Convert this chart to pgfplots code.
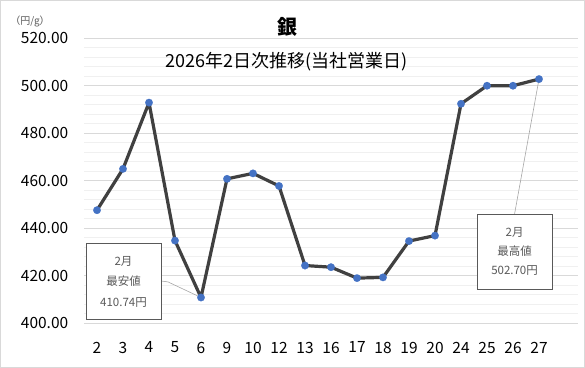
\documentclass[border=0pt]{standalone}
\usepackage{fontspec}
\setmainfont{Noto Sans CJK JP}
\usepackage{pgfplots}
\pgfplotsset{compat=1.18}
\definecolor{lineg}{HTML}{404040}
\definecolor{mblue}{HTML}{4472C4}
\definecolor{gridmaj}{HTML}{D9D9D9}
\definecolor{gridmin}{HTML}{F0F0F0}
\definecolor{txt}{HTML}{595959}
\definecolor{lead}{HTML}{A6A6A6}
\begin{document}
\begin{tikzpicture}
\useasboundingbox (0,0) rectangle (585bp,368bp);
\draw[gridmaj, line width=0.75bp] (0.5bp,0.5bp) rectangle (584.5bp,367.5bp);
\begin{axis}[at={(84bp,45bp)}, anchor=south west, scale only axis,
  width=494bp, height=285bp,
  xmin=-0.5, xmax=18.5, ymin=400, ymax=520,
  axis x line*=bottom, axis y line*=left,
  y axis line style={draw=none},
  x axis line style={gridmaj, line width=0.75bp},
  ytick={400,420,...,520}, minor y tick num=4,
  ymajorgrids, yminorgrids,
  major grid style={gridmaj, line width=0.75bp},
  minor grid style={gridmin, line width=0.75bp},
  ytick style={draw=none}, minor y tick style={draw=none},
  xtick={0,...,17},
  xticklabels={2,3,4,5,6,9,10,12,13,16,17,18,19,20,24,25,26,27},
  xtick style={draw=none},
  minor xtick={-0.5,0.5,...,18.5},
  minor x tick style={gridmaj, line width=0.75bp},
  tick align=outside, minor tick length=5bp,
  /pgf/number format/assume math mode=true,
  yticklabel style={xshift=-8bp, /pgf/number format/.cd, fixed, fixed zerofill, precision=2, 1000 sep={}},
  tick label style={font=\fontsize{15.5bp}{18bp}\selectfont, color=black},
  xticklabel style={yshift=-11bp},
  clip=false,
]
\addplot[lineg, line width=3.2bp, line join=round, mark=*, mark size=3.8bp,
  mark options={fill=mblue, draw=mblue, line width=0.1bp}] coordinates {
(0,447.5) (1,464.9) (2,492.8) (3,434.7) (4,410.74) (5,460.7) (6,463.0) (7,457.7)
(8,424.2) (9,423.5) (10,418.9) (11,419.2) (12,434.5) (13,436.8) (14,492.3)
(15,499.9) (16,499.9) (17,502.70)
};
\draw[lead, line width=0.6bp] (axis cs:2.46,417.7) -- (axis cs:2.73,417.3) -- (axis cs:4,410.74);
\draw[lead, line width=0.6bp] (axis cs:16.06,445.9) -- (axis cs:17,502.7);
\draw[txt, fill=white, line width=0.9bp] (axis cs:-0.42,401.7) rectangle (axis cs:2.46,433.3);
\draw[txt, fill=white, line width=0.9bp] (axis cs:14.62,414.3) rectangle (axis cs:17.5,445.9);
\begin{scope}[every node/.style={txt, font=\fontsize{11.5bp}{13bp}\selectfont}]
\node at (axis cs:1.02,426.1) {2月};
\node at (axis cs:1.02,417.7) {最安値};
\node at (axis cs:1.02,408.8) {410.74円};
\node at (axis cs:16.06,438.3) {2月};
\node at (axis cs:16.06,430.3) {最高値};
\node at (axis cs:16.06,421.9) {502.70円};
\end{scope}
\end{axis}
\node[font=\fontsize{20bp}{24bp}\selectfont\bfseries] at (287.5bp,341bp) {銀};
\node[font=\fontsize{18bp}{21bp}\selectfont] at (287bp,306bp) {2026年2日次推移(当社営業日)};
\node[txt, font=\fontsize{10bp}{12bp}\selectfont] at (30bp,347bp) {（円/g）};
\end{tikzpicture}
\end{document}
